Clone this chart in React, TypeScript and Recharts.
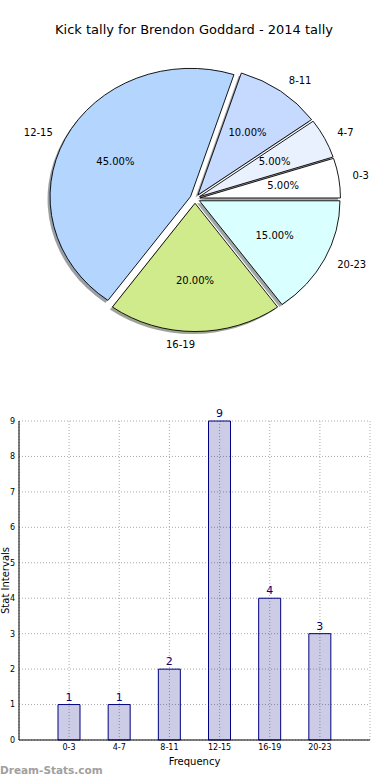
import React from 'react';
import { PieChart, Pie, BarChart, Bar, XAxis, YAxis, CartesianGrid, LabelList, Cell } from 'recharts';

const categories = ['0-3', '4-7', '8-11', '12-15', '16-19', '20-23'];
const counts = [1, 1, 2, 9, 4, 3];
const sliceColors = ['#ffffff', '#eaf1fe', '#c6d9fe', '#b4d5fe', '#d0eb8b', '#d9ffff'];
const yTicks = [0, 1, 2, 3, 4, 5, 6, 7, 8, 9];
const title = 'Kick tally for Brendon Goddard - 2014 tally';
const xLabel = 'Frequency';
const yLabel = 'Stat Intervals';
const watermark = 'Dream-Stats.com';

const data = categories.map((c, i) => ({ name: c, value: counts[i] }));

const RAD = Math.PI / 180;
const K = 0.913; // vertical squash of the pie
const EXPLODE = 5;
const FONT = '"DejaVu Sans", sans-serif';

function ellipsePath(cx: number, cy: number, rx: number, ry: number, a0: number, a1: number) {
  const x0 = cx + rx * Math.cos(a0 * RAD);
  const y0 = cy - ry * Math.sin(a0 * RAD);
  const x1 = cx + rx * Math.cos(a1 * RAD);
  const y1 = cy - ry * Math.sin(a1 * RAD);
  const large = Math.abs(a1 - a0) > 180 ? 1 : 0;
  return `M${cx},${cy} L${x0},${y0} A${rx},${ry} 0 ${large} 0 ${x1},${y1} Z`;
}

function offsetFor(mid: number) {
  return { ox: EXPLODE * Math.cos(mid * RAD), oy: -EXPLODE * Math.sin(mid * RAD) * K };
}

function darken(hex: string) {
  const r = parseInt(hex.slice(1, 3), 16);
  const g = parseInt(hex.slice(3, 5), 16);
  const b = parseInt(hex.slice(5, 7), 16);
  return `rgb(${Math.round(r * 0.3)},${Math.round(g * 0.3)},${Math.round(b * 0.3)})`;
}

const WedgeShape = (p: any) => {
  const mid = (p.startAngle + p.endAngle) / 2;
  const { ox, oy } = offsetFor(mid);
  const d = ellipsePath(p.cx + ox, p.cy + oy, p.outerRadius, p.outerRadius * K, p.startAngle, p.endAngle);
  return <path d={d} fill={p.fill} stroke="#000" strokeWidth={0.9} strokeLinejoin="round" />;
};

const ShadowShape = (p: any) => {
  const mid = (p.startAngle + p.endAngle) / 2;
  const { ox, oy } = offsetFor(mid);
  const d = ellipsePath(p.cx + ox - 2.5, p.cy + oy + 2.5, p.outerRadius, p.outerRadius * K, p.startAngle, p.endAngle);
  const idx = categories.indexOf(p.payload?.name ?? p.name);
  return <path d={d} fill={darken(sliceColors[idx] || '#ffffff')} fillOpacity={0.5} stroke="none" />;
};

const renderPieLabel = (p: any) => {
  const mid = p.midAngle;
  const R = p.outerRadius;
  const { ox, oy } = offsetFor(mid);
  const ecx = p.cx + ox;
  const ecy = p.cy + oy;
  const c = Math.cos(mid * RAD);
  const s = Math.sin(mid * RAD);
  const tx = ecx + 1.1 * R * c;
  const ty = ecy - 1.1 * R * K * s;
  const px = ecx + 0.6 * R * c;
  const py = ecy - 0.6 * R * K * s;
  const name = p.payload?.name ?? p.name;
  return (
    <g>
      <text x={tx} y={ty} textAnchor={c > 0 ? 'start' : 'end'} dominantBaseline="central" fontSize={10} fill="#000" fontFamily={FONT}>
        {name}
      </text>
      <text x={px} y={py} textAnchor="middle" dominantBaseline="central" fontSize={10} fill="#000" fontFamily={FONT}>
        {(p.percent * 100).toFixed(2)}%
      </text>
    </g>
  );
};

const YLabel = (p: any) => {
  const vb = p.viewBox || { y: 421, height: 319 };
  const x = 5;
  const y = vb.y + vb.height / 2;
  return (
    <text x={x} y={y} transform={`rotate(-90 ${x} ${y})`} textAnchor="middle" dominantBaseline="central" fontSize={10} fill="#000" fontFamily={FONT}>
      {yLabel}
    </text>
  );
};

export default function App() {
  return (
    <div style={{ position: 'absolute', left: 0, top: 0, width: 390, height: 780, background: '#fff', fontFamily: FONT }}>
      <div style={{ position: 'absolute', left: 0, top: 22, width: 388, textAlign: 'center', fontSize: 13, lineHeight: '16px', color: '#000' }}>
        {title}
      </div>
      <div style={{ position: 'absolute', left: 0, top: 0 }}>
        <PieChart width={390} height={390} margin={{ top: 0, right: 0, bottom: 0, left: 0 }}>
          <Pie
            data={data}
            dataKey="value"
            nameKey="name"
            cx={195}
            cy={198.7}
            outerRadius={140.5}
            startAngle={0}
            endAngle={360}
            isAnimationActive={false}
            shape={ShadowShape}
            activeShape={ShadowShape}
            inactiveShape={ShadowShape}
            label={false}
            labelLine={false}
            stroke="none"
          >
            {data.map((d, i) => (
              <Cell key={d.name} fill={sliceColors[i]} />
            ))}
          </Pie>
          <Pie
            data={data}
            dataKey="value"
            nameKey="name"
            cx={195}
            cy={198.7}
            outerRadius={140.5}
            startAngle={0}
            endAngle={360}
            isAnimationActive={false}
            shape={WedgeShape}
            activeShape={WedgeShape}
            inactiveShape={WedgeShape}
            label={renderPieLabel}
            labelLine={false}
          >
            {data.map((d, i) => (
              <Cell key={d.name} fill={sliceColors[i]} />
            ))}
          </Pie>
        </PieChart>
      </div>
      <div style={{ position: 'absolute', left: 0, top: 400 }}>
        <BarChart width={390} height={380} data={data} margin={{ top: 21, right: 20, bottom: 0, left: 0 }}>
          <CartesianGrid stroke="#aaaaaa" strokeDasharray="1 2" />
          <XAxis
            dataKey="name"
            padding={{ left: 25, right: 25 }}
            height={40}
            interval={0}
            tickLine={false}
            tickSize={2}
            tickMargin={2}
            tick={{ fontSize: 8, fill: '#000' }}
            axisLine={{ stroke: '#000' }}
            label={{ value: xLabel, position: 'insideBottom', offset: 15, fontSize: 10, fill: '#000' }}
          />
          <XAxis xAxisId="top" dataKey="name" orientation="top" height={0} tick={false} tickLine={false} axisLine={{ stroke: '#000' }} />
          <YAxis
            domain={[0, 9]}
            ticks={yTicks}
            width={19}
            interval={0}
            tickLine={false}
            tickSize={2}
            tickMargin={2}
            tick={{ fontSize: 8, fill: '#000' }}
            axisLine={{ stroke: '#000' }}
            label={YLabel}
          />
          <YAxis yAxisId="right" orientation="right" width={0} domain={[0, 9]} tick={false} tickLine={false} axisLine={{ stroke: '#000' }} />
          <Bar dataKey="value" fill="#000080" fillOpacity={0.2} stroke="#000080" strokeWidth={1} barSize={22} isAnimationActive={false}>
            <LabelList dataKey="value" position="top" offset={4} fill="#000080" fontSize={11} />
          </Bar>
        </BarChart>
      </div>
      <div style={{ position: 'absolute', left: 0, top: 763, fontSize: 10.5, fontWeight: 'bold', color: '#a0a0a0', lineHeight: '14px' }}>
        {watermark}
      </div>
    </div>
  );
}
